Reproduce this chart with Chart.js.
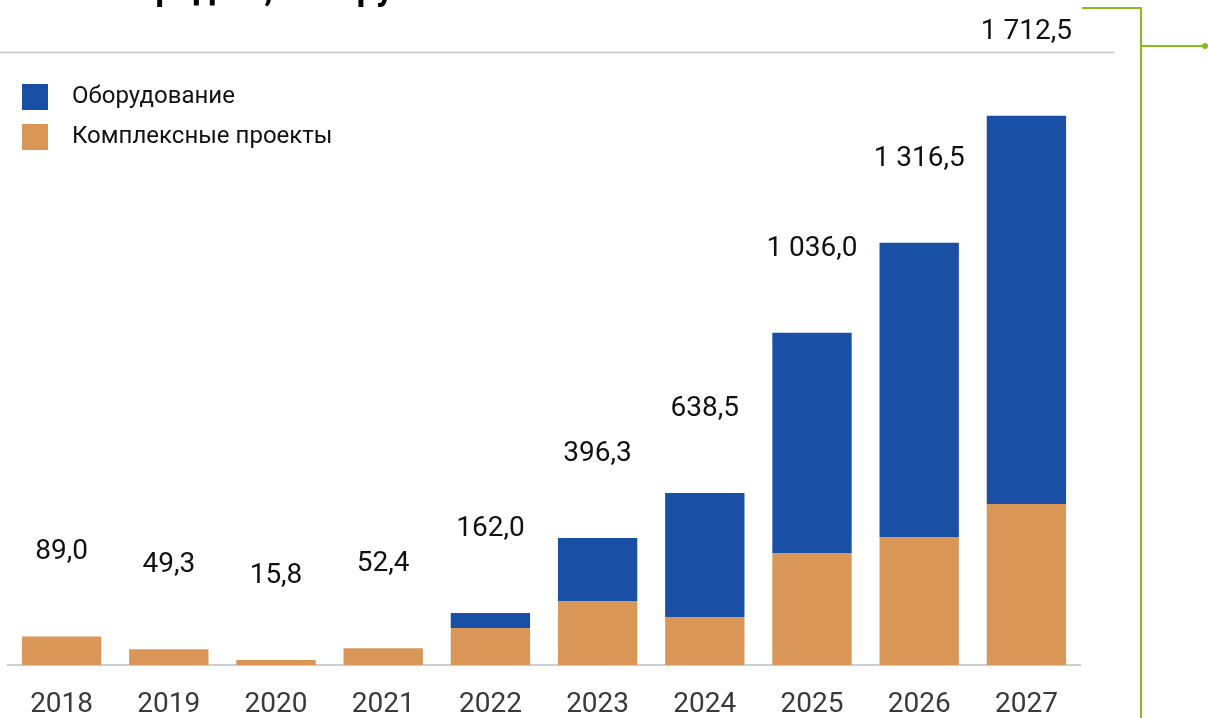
<!DOCTYPE html>
<html>
<head>
<meta charset="utf-8">
<script src="https://cdn.jsdelivr.net/npm/chart.js@4"></script>
<style>
  body { margin: 0; background: #fff; }
  #wrap { width: 1208px; height: 718px; position: relative; }
</style>
</head>
<body>
<div id="wrap"><canvas id="myChart" width="1208" height="718"></canvas></div>
<script>
// данные по годам
let years = ["2018", "2019", "2020", "2021", "2022", "2023", "2024", "2025", "2026", "2027"];
let projects = [89.0, 49.3, 15.8, 52.4, 115.4, 199.6, 149.7, 349.3, 399.3, 502.2];
let equipment = [0, 0, 0, 0, 46.6, 196.7, 386.8, 686.7, 917.2, 1210.3];
let totalLabels = ["89,0", "49,3", "15,8", "52,4", "162,0", "396,3", "638,5", "1 036,0", "1 316,5", "1 712,5"];

let blue = "#1a4fa6";
let orange = "#da9657";
let green = "#86bc1c";

// подписи над столбиками + легенда + линии слайда
const extras = {
  id: "extras",
  afterDraw(chart) {
    const c = chart.ctx;
    c.save();
    // обрезанный заголовок слайда
    c.fillStyle = "#000";
    c.font = "bold 35px Roboto";
    c.textBaseline = "alphabetic";
    c.textAlign = "left";
    c.fillText("Объем продаж, млн руб.", 14, 0);

    // серая линия
    c.strokeStyle = "#c4c4c4";
    c.lineWidth = 1.5;
    c.beginPath();
    c.moveTo(0, 52.5);
    c.lineTo(1114, 52.5);
    c.stroke();

    // зелёная выноска справа
    c.strokeStyle = green;
    c.lineWidth = 2;
    c.beginPath();
    c.moveTo(1082, 8);
    c.lineTo(1141, 8);
    c.lineTo(1141, 718);
    c.moveTo(1141, 46);
    c.lineTo(1204, 46);
    c.stroke();
    c.fillStyle = green;
    c.beginPath();
    c.arc(1205, 46, 3, 0, Math.PI * 2);
    c.fill();

    // легенда (сначала синий)
    const items = [chart.data.datasets[1], chart.data.datasets[0]];
    c.font = "24px Roboto";
    c.textBaseline = "middle";
    items.forEach(function(ds, i) {
      c.fillStyle = ds.backgroundColor;
      c.fillRect(22, 84 + i * 40, 26, 26);
      c.fillStyle = "#111";
      c.fillText(ds.label, 72, 97 + i * 40);
    });

    // итоги
    const top = chart.getDatasetMeta(1);
    c.font = "28px Roboto";
    c.textAlign = "center";
    c.fillStyle = "#111";
    top.data.forEach(function(bar, i) {
      c.fillText(totalLabels[i], bar.x, bar.y - 84);
    });
    c.restore();
  }
};

var ctx = document.getElementById("myChart").getContext("2d");
var chart = new Chart(ctx, {
  type: "bar",
  data: {
    labels: years,
    datasets: [
      {
        label: "Комплексные проекты",
        data: projects,
        backgroundColor: orange
      },
      {
        label: "Оборудование",
        data: equipment,
        backgroundColor: blue
      }
    ]
  },
  options: {
    responsive: false,
    animation: false,
    layout: { padding: { top: 14, left: 8, right: 128, bottom: 0 } },
    datasets: {
      bar: { categoryPercentage: 1, barPercentage: 0.74 }
    },
    plugins: {
      legend: { display: false },
      tooltip: { enabled: false }
    },
    scales: {
      x: {
        stacked: true,
        grid: { display: false, drawTicks: false },
        border: { display: true, color: "#c9d0da", width: 2 },
        ticks: {
          color: "#3a3a3a",
          padding: 23,
          font: { family: "Roboto", size: 28 }
        },
        afterFit: function(scale) {
          scale.height = 53;
        }
      },
      y: {
        stacked: true,
        display: false,
        min: 0,
        max: 2030
      }
    }
  },
  plugins: [extras]
});
</script>
</body>
</html>
